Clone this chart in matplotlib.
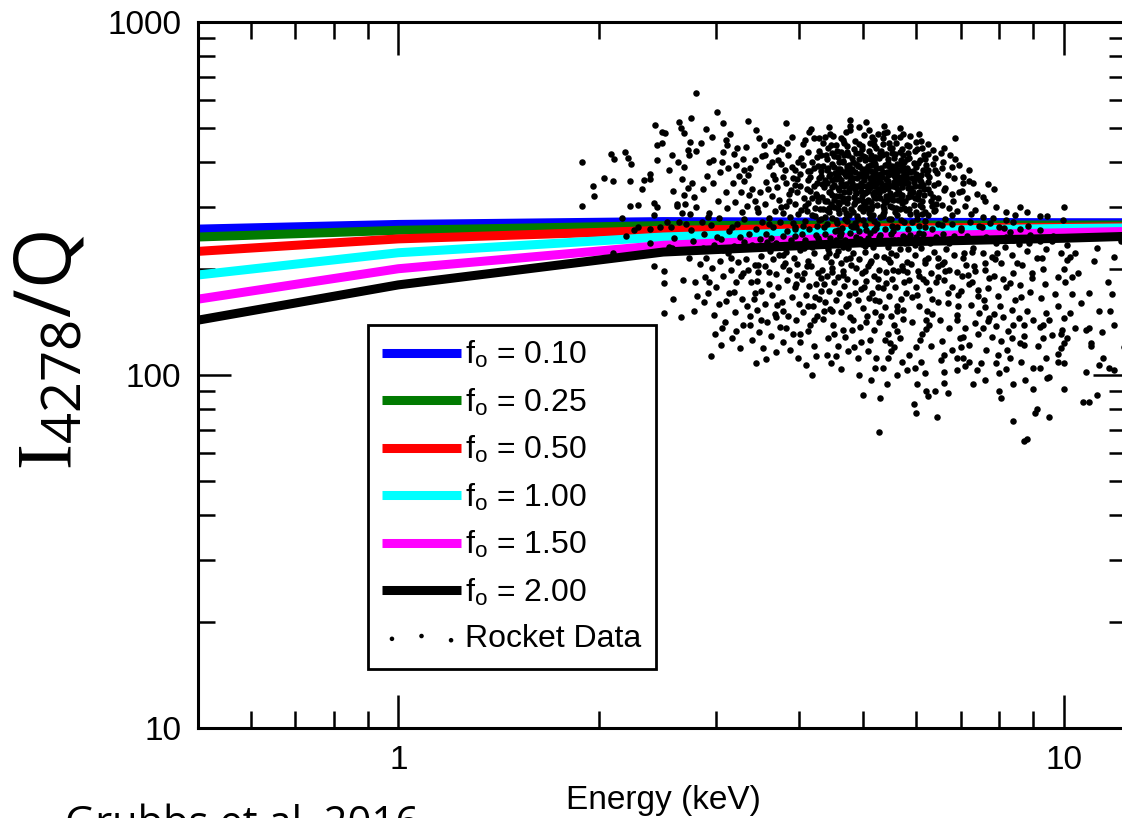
import matplotlib
matplotlib.use('Agg')
import matplotlib.pyplot as plt
from matplotlib.ticker import FixedLocator, FixedFormatter, LogLocator, NullFormatter
import numpy as np

plt.rcParams.update({
    'font.family': ['Liberation Sans', 'DejaVu Sans'],
    'mathtext.fontset': 'custom',
    'mathtext.rm': 'Liberation Serif',
    'mathtext.sf': 'Open Sans',
    'mathtext.it': 'Liberation Serif:italic',
})

# model curves (I4278/Q vs energy), one per f_o value
energy = [0.5, 1.0, 2.5, 5.0, 10.0, 12.4]
ratio_f010 = [259, 267, 272, 271, 270, 270]
ratio_f025 = [246, 257, 265, 266, 266, 266]
ratio_f050 = [224, 243, 257, 261, 262, 263]
ratio_f100 = [192, 222, 246, 256, 260, 261]
ratio_f150 = [164, 200, 233, 246, 253, 255]
ratio_f200 = [143, 180, 223, 237, 244, 247]

curve_labels = ['0.10', '0.25', '0.50', '1.00', '1.50', '2.00']
curve_colors = ['#0000ff', '#007a00', '#ff0000', '#00ffff', '#ff00ff', '#000000']

rocket_data = [
    # E < 2.35
    (1.89, 401), (1.96, 343), (1.97, 321), (1.89, 301), (2.04, 361), (2.10, 355), (2.09, 423),
    (2.11, 408), (2.19, 428), (2.21, 412), (2.24, 396), (2.23, 354), (2.23, 302), (2.29, 304),
    (2.17, 278), (2.20, 247), (2.10, 222), (2.26, 257), (2.29, 262), (2.32, 337), (2.34, 357),
    # 2.35 - 2.8
    (2.39, 371), (2.39, 360), (2.42, 307), (2.45, 300), (2.45, 407), (2.45, 447), (2.43, 511),
    (2.49, 489), (2.52, 486), (2.49, 453), (2.55, 381), (2.59, 333), (2.62, 302), (2.64, 520),
    (2.66, 501), (2.69, 486), (2.75, 536), (2.80, 630), (2.74, 456), (2.72, 433), (2.73, 420),
    (2.80, 431), (2.69, 389), (2.63, 400), (2.72, 339), (2.67, 360), (2.69, 324), (2.78, 320),
    (2.42, 284), (2.39, 259), (2.39, 236), (2.42, 203), (2.51, 197), (2.51, 182), (2.59, 164),
    (2.51, 150), (2.66, 146), (2.78, 152), (2.53, 272), (2.57, 262), (2.55, 231), (2.58, 229),
    (2.62, 305), (2.64, 272), (2.67, 287), (2.70, 305), (2.74, 285), (2.75, 258), (2.68, 186),
    (2.73, 215), (2.77, 240), (2.79, 184), (2.79, 225), (2.81, 167), (2.80, 300), (2.47, 262),
    (2.60, 245), (2.71, 268), (2.76, 350), (2.58, 420),
    # 2.8 - 3.3
    (2.87, 336), (2.91, 366), (2.93, 400), (2.97, 407), (3.08, 518), (3.11, 463), (3.12, 448),
    (3.08, 428), (3.06, 400), (3.19, 423), (2.95, 113), (2.99, 131), (3.05, 122), (2.85, 455),
    (2.90, 497), (2.96, 471), (3.01, 556), (3.15, 482), (3.22, 394), (3.25, 367), (3.18, 349),
    (3.11, 331), (3.02, 312), (2.93, 288), (2.86, 271), (2.88, 251), (2.95, 266), (3.03, 279),
    (3.12, 297), (3.21, 309), (3.27, 331), (3.28, 289), (3.23, 268), (3.14, 256), (3.05, 243),
    (2.98, 233), (2.90, 214), (2.96, 201), (3.04, 211), (3.13, 221), (3.19, 232), (3.26, 246),
    (2.84, 206), (2.89, 189), (3.00, 177), (3.08, 191), (3.16, 199), (3.24, 209), (3.30, 194),
    (2.92, 171), (3.03, 159), (3.14, 171), (3.22, 183), (3.28, 164), (2.98, 148), (3.10, 141),
    (3.20, 151), (3.29, 139), (3.06, 136), (3.17, 127), (3.26, 119), (2.88, 161), (3.13, 385),
    (3.04, 376), (2.97, 351), (3.23, 441), (3.29, 409),
    # 3.3 - 3.8
    (3.35, 525), (3.48, 468), (3.54, 448), (3.35, 368), (3.31, 381), (3.31, 355), (3.44, 407),
    (3.38, 386), (3.70, 431), (3.73, 443), (3.83, 518), (3.72, 407), (3.40, 336), (3.36, 324),
    (3.52, 416), (3.61, 391), (3.66, 368), (3.57, 352), (3.49, 329), (3.43, 311), (3.34, 301),
    (3.47, 289), (3.55, 306), (3.64, 321), (3.71, 341), (3.78, 364), (3.76, 299), (3.68, 291),
    (3.61, 279), (3.52, 271), (3.45, 259), (3.37, 251), (3.40, 233), (3.49, 243), (3.57, 251),
    (3.65, 263), (3.74, 271), (3.79, 247), (3.70, 237), (3.62, 225), (3.51, 217), (3.43, 205),
    (3.35, 198), (3.39, 184), (3.47, 196), (3.56, 203), (3.65, 213), (3.73, 219), (3.78, 204),
    (3.69, 193), (3.60, 181), (3.51, 173), (3.42, 164), (3.34, 157), (3.38, 147), (3.46, 153),
    (3.55, 159), (3.64, 169), (3.72, 177), (3.77, 161), (3.68, 149), (3.58, 141), (3.48, 132),
    (3.40, 126), (3.53, 119), (3.63, 129), (3.74, 137), (3.70, 116), (3.57, 111), (3.45, 108),
    (3.79, 124), (3.62, 461), (3.45, 494), (3.76, 396), (3.33, 442),
    # 3.8 - 4.3
    (4.17, 496), (4.22, 469), (3.98, 400), (3.90, 472), (4.05, 451), (4.12, 428), (4.25, 414),
    (3.85, 421), (3.95, 381), (4.06, 394), (4.15, 379), (4.27, 391), (3.82, 349), (3.92, 361),
    (4.02, 344), (4.13, 356), (4.22, 343), (4.29, 362), (3.86, 326), (3.97, 331), (4.07, 318),
    (4.16, 333), (4.26, 321), (3.83, 301), (3.94, 306), (4.03, 294), (4.13, 307), (4.23, 297),
    (3.88, 281), (3.99, 286), (4.08, 273), (4.18, 284), (4.28, 275), (3.84, 256), (3.94, 263),
    (4.04, 251), (4.14, 259), (4.24, 249), (3.89, 241), (3.99, 234), (4.09, 242), (4.19, 231),
    (4.29, 239), (3.82, 223), (3.93, 214), (4.02, 226), (4.12, 211), (4.22, 221), (3.87, 199),
    (3.97, 206), (4.07, 194), (4.17, 203), (4.27, 195), (3.84, 186), (3.94, 177), (4.04, 187),
    (4.14, 179), (4.24, 181), (3.90, 166), (4.00, 159), (4.10, 169), (4.20, 157), (4.29, 164),
    (3.85, 147), (3.96, 143), (4.06, 151), (4.16, 139), (4.26, 147), (3.92, 131), (4.02, 124),
    (4.12, 133), (4.22, 121), (3.98, 112), (4.10, 107), (4.24, 113), (4.18, 100), (3.88, 118),
    # 4.3 - 4.8
    (4.46, 482), (4.50, 476), (4.66, 462), (4.78, 526), (4.78, 509), (4.78, 493), (4.35, 455),
    (4.42, 441), (4.55, 448), (4.62, 429), (4.72, 446), (4.32, 421), (4.40, 409), (4.48, 426),
    (4.57, 414), (4.65, 404), (4.74, 419), (4.34, 391), (4.41, 381), (4.49, 396), (4.58, 384),
    (4.66, 377), (4.75, 393), (4.31, 366), (4.38, 357), (4.46, 371), (4.54, 359), (4.62, 351),
    (4.70, 366), (4.78, 354), (4.36, 341), (4.44, 331), (4.52, 346), (4.60, 334), (4.68, 343),
    (4.76, 329), (4.33, 319), (4.41, 311), (4.49, 323), (4.57, 309), (4.65, 317), (4.73, 307),
    (4.35, 296), (4.43, 289), (4.51, 299), (4.59, 287), (4.67, 295), (4.75, 284), (4.32, 276),
    (4.40, 267), (4.48, 279), (4.56, 269), (4.64, 261), (4.72, 273), (4.79, 264), (4.37, 251),
    (4.45, 244), (4.53, 256), (4.61, 247), (4.69, 241), (4.77, 253), (4.34, 233), (4.42, 227),
    (4.50, 237), (4.58, 224), (4.66, 231), (4.74, 229), (4.39, 216), (4.47, 209), (4.55, 219),
    (4.63, 207), (4.71, 213), (4.33, 199), (4.41, 191), (4.49, 201), (4.57, 189), (4.65, 197),
    (4.73, 187), (4.36, 181), (4.44, 173), (4.52, 183), (4.60, 171), (4.68, 179), (4.76, 169),
    (4.38, 161), (4.46, 154), (4.54, 163), (4.62, 151), (4.70, 157), (4.34, 144), (4.50, 139),
    (4.66, 134), (4.78, 146), (4.42, 127), (4.58, 121), (4.74, 117), (4.47, 108), (4.63, 104),
    (4.40, 114),
    # 4.8 - 5.3
    (5.09, 493), (4.92, 505), (5.15, 471), (5.25, 481), (4.85, 461), (4.98, 444), (5.12, 453),
    (5.22, 439), (4.88, 426), (5.00, 417), (5.10, 431), (5.20, 414), (5.29, 426), (4.83, 401),
    (4.93, 391), (5.03, 406), (5.13, 394), (5.23, 387), (4.86, 376), (4.96, 367), (5.06, 381),
    (5.16, 369), (5.26, 361), (4.81, 351), (4.91, 344), (5.01, 356), (5.11, 341), (5.21, 349),
    (4.88, 327), (4.98, 321), (5.08, 333), (5.18, 319), (5.28, 327), (4.84, 306), (4.94, 297),
    (5.04, 309), (5.14, 295), (5.24, 303), (4.89, 283), (4.99, 275), (5.09, 287), (5.19, 273),
    (5.29, 281), (4.82, 263), (4.92, 255), (5.02, 266), (5.12, 253), (5.22, 261), (4.87, 241),
    (4.97, 235), (5.07, 245), (5.17, 231), (5.27, 239), (4.83, 221), (4.93, 213), (5.03, 223),
    (5.13, 211), (5.23, 217), (4.88, 201), (4.98, 194), (5.08, 204), (5.18, 191), (5.28, 199),
    (4.85, 183), (4.95, 175), (5.05, 185), (5.15, 171), (5.25, 177), (4.90, 163), (5.00, 155),
    (5.10, 165), (5.20, 151), (4.83, 143), (4.94, 137), (5.06, 147), (5.18, 134), (5.28, 141),
    (4.84, 120), (4.96, 124), (5.08, 117), (5.22, 112), (5.00, 88), (5.27, 69), (5.30, 86),
    (4.92, 100), (5.14, 97),
    # 5.3 - 5.8
    (5.68, 500), (5.42, 488), (5.55, 471), (5.35, 451), (5.48, 439), (5.60, 453), (5.72, 437),
    (5.33, 419), (5.45, 409), (5.57, 423), (5.69, 407), (5.38, 393), (5.50, 384), (5.62, 396),
    (5.74, 379), (5.32, 363), (5.44, 354), (5.56, 369), (5.68, 351), (5.78, 363), (5.36, 336),
    (5.48, 327), (5.60, 341), (5.72, 324), (5.40, 309), (5.52, 299), (5.64, 313), (5.76, 297),
    (5.34, 286), (5.46, 277), (5.58, 289), (5.70, 274), (5.38, 259), (5.50, 251), (5.62, 263),
    (5.74, 247), (5.32, 239), (5.44, 231), (5.56, 241), (5.68, 227), (5.78, 237), (5.36, 216),
    (5.48, 209), (5.60, 219), (5.72, 204), (5.40, 196), (5.52, 187), (5.64, 197), (5.76, 184),
    (5.34, 176), (5.46, 167), (5.58, 177), (5.70, 164), (5.38, 156), (5.50, 147), (5.62, 157),
    (5.74, 144), (5.44, 131), (5.56, 139), (5.68, 127), (5.42, 94), (5.44, 112), (5.50, 117),
    (5.48, 123), (5.55, 120), (5.35, 105), (5.62, 100), (5.72, 109),
    # 5.8 - 6.5
    (5.88, 475), (6.06, 483), (6.10, 461), (5.85, 446), (5.98, 431), (6.12, 441), (6.25, 424),
    (6.40, 411), (5.82, 409), (5.95, 399), (6.08, 407), (6.20, 393), (6.35, 397), (5.88, 377),
    (6.00, 371), (6.14, 381), (6.28, 364), (6.45, 373), (5.84, 349), (5.97, 343), (6.10, 353),
    (6.24, 337), (6.38, 346), (5.90, 321), (6.03, 316), (6.17, 324), (6.31, 311), (6.46, 317),
    (5.86, 296), (5.99, 289), (6.12, 299), (6.26, 284), (6.40, 293), (5.92, 271), (6.05, 264),
    (6.19, 273), (6.33, 259), (6.48, 267), (5.88, 249), (6.01, 241), (6.15, 251), (6.29, 237),
    (6.43, 246), (5.84, 227), (5.97, 219), (6.11, 229), (6.25, 215), (6.39, 223), (5.90, 206),
    (6.04, 197), (6.18, 207), (6.32, 194), (6.46, 203), (5.86, 186), (6.00, 177), (6.14, 187),
    (6.28, 174), (6.42, 183), (5.92, 166), (6.06, 157), (6.20, 143), (6.33, 149), (6.47, 161),
    (6.20, 135), (6.28, 139), (6.00, 120), (6.08, 126), (6.10, 109), (5.98, 105), (6.18, 101),
    (6.00, 78), (5.95, 83), (6.02, 94), (6.20, 90), (6.25, 87), (6.45, 76), (6.40, 90),
    # 6.5 - 7.5
    (6.87, 469), (6.87, 410), (6.60, 441), (6.75, 419), (6.95, 394), (7.20, 381), (6.55, 386),
    (6.70, 369), (6.85, 361), (7.05, 364), (7.30, 349), (6.60, 334), (6.78, 326), (6.95, 331),
    (7.15, 317), (7.40, 326), (6.55, 304), (6.72, 297), (6.90, 291), (7.10, 301), (7.35, 293),
    (6.62, 276), (6.80, 267), (7.00, 261), (7.22, 271), (7.45, 264), (6.58, 251), (6.75, 243),
    (6.95, 239), (7.15, 247), (7.38, 241), (6.65, 227), (6.85, 219), (7.05, 214), (7.28, 223),
    (6.55, 206), (6.72, 199), (6.92, 196), (7.12, 205), (7.35, 197), (6.60, 186), (6.80, 177),
    (7.00, 173), (7.20, 181), (7.42, 174), (6.90, 143), (6.92, 148), (7.06, 128), (6.70, 160),
    (7.25, 158), (7.45, 150), (7.10, 136), (7.35, 140), (6.60, 102), (6.60, 95), (6.70, 89),
    (6.90, 112), (6.90, 103), (7.06, 112), (7.40, 103), (7.20, 109), (7.30, 94), (7.10, 106),
    (6.80, 118), (7.00, 120), (6.55, 125), (7.20, 355), (7.05, 350),
    # 7.5 - 8.5
    (7.68, 347), (7.85, 337), (7.60, 311), (7.90, 299), (8.20, 289), (7.55, 281), (7.75, 269),
    (8.00, 263), (8.30, 254), (7.65, 246), (7.90, 237), (8.15, 231), (8.40, 241), (7.55, 221),
    (7.80, 216), (8.05, 207), (8.35, 219), (7.60, 199), (7.85, 191), (8.10, 187), (8.40, 195),
    (7.70, 176), (7.95, 167), (8.20, 177), (8.45, 163), (7.60, 156), (7.85, 149), (8.10, 146),
    (8.35, 153), (7.96, 114), (8.00, 90), (8.04, 86), (7.55, 136), (7.70, 142), (7.80, 128),
    (8.05, 125), (8.25, 133), (8.40, 139), (7.65, 118), (8.20, 104), (8.40, 94), (8.40, 74),
    (8.00, 101), (7.90, 108), (8.30, 112), (7.55, 320), (8.20, 275), (8.40, 272),
    # 8.5 - 9.5
    (8.60, 123), (8.70, 122), (8.70, 65), (8.80, 66), (9.00, 105), (9.20, 105), (9.10, 80),
    (9.05, 78), (8.60, 260), (8.90, 250), (9.20, 240), (8.55, 235), (8.80, 225), (9.10, 215),
    (9.40, 228), (8.65, 205), (8.95, 195), (9.30, 200), (8.60, 180), (8.90, 172), (9.25, 165),
    (8.70, 139), (9.00, 143), (9.20, 137), (9.30, 139), (8.80, 152), (9.40, 150), (8.55, 145),
    (9.15, 121), (9.40, 112), (9.00, 91), (8.75, 97), (8.60, 300), (8.80, 290), (9.45, 282),
    (9.20, 282),
    # 9.5 - 10.5
    (9.50, 143), (9.60, 130), (9.50, 76), (9.50, 99), (9.45, 98), (9.80, 115), (9.80, 109),
    (10.0, 108), (10.0, 91), (10.1, 212), (9.90, 222), (10.0, 200), (10.05, 183), (10.2, 150),
    (10.0, 145), (9.95, 134), (9.90, 131), (10.1, 127), (10.0, 123), (9.60, 240), (9.80, 190),
    (10.3, 170), (9.70, 170), (10.2, 216), (10.4, 136), (10.0, 300), (9.97, 275),
    # above 10.5
    (10.5, 194), (10.4, 222), (10.8, 134), (10.9, 136), (11.0, 123), (11.0, 121), (10.8, 102),
    (11.2, 88), (10.7, 84), (10.9, 84), (11.65, 184), (11.8, 170), (11.75, 152), (11.9, 139),
    (11.3, 152), (11.4, 132), (11.45, 112), (11.3, 107), (11.7, 105), (11.9, 103), (10.6, 160),
    (11.1, 210), (12.2, 240), (12.3, 120),
    # dense core
    (4.41, 351), (4.57, 338), (4.69, 372), (4.83, 361), (4.95, 333), (5.04, 344), (5.17, 359),
    (5.26, 337), (5.38, 346), (5.51, 371), (5.63, 334), (5.77, 349), (5.92, 361), (6.05, 331),
    (4.47, 305), (4.61, 322), (4.79, 296), (4.91, 314), (5.02, 327), (5.14, 309), (5.23, 318),
    (5.34, 301), (5.47, 315), (5.59, 326), (5.71, 307), (5.83, 319), (5.96, 303), (6.12, 312),
    (4.52, 388), (4.66, 401), (4.81, 383), (4.93, 409), (5.07, 391), (5.19, 404), (5.32, 386),
    (5.44, 398), (5.57, 381), (5.69, 394), (5.81, 385), (5.99, 389), (4.38, 281), (4.55, 275),
    (4.71, 288), (4.86, 270), (5.00, 292), (5.11, 279), (5.24, 268), (5.36, 290), (5.49, 276),
    (5.62, 284), (5.75, 271), (5.88, 286), (6.02, 277), (6.18, 289), (4.63, 252), (4.87, 246),
    (5.05, 258), (5.29, 249), (5.53, 255), (5.79, 244), (6.06, 253), (4.73, 428), (4.97, 436),
    (5.13, 421), (5.31, 432), (5.52, 426), (5.74, 419), (5.02, 366), (5.09, 348), (5.21, 373),
    (5.28, 355), (4.88, 344), (4.99, 312), (5.16, 326), (5.33, 364), (5.41, 322), (5.55, 353),
    (4.76, 336), (4.59, 362), (5.66, 365), (5.84, 338), (4.45, 330), (6.15, 345), (6.30, 328),
    (6.22, 372), (4.25, 350), (4.18, 318), (4.12, 378), (3.95, 345), (3.86, 312), (4.30, 295),
    (3.92, 270), (4.05, 265),
    (4.03, 412), (4.11, 337), (4.19, 401), (4.23, 283), (4.28, 432), (4.33, 348), (4.36, 262),
    (4.39, 419), (4.43, 367), (4.47, 447), (4.51, 313), (4.53, 361), (4.56, 432), (4.58, 296),
    (4.61, 383), (4.64, 345), (4.67, 421), (4.69, 276), (4.72, 391), (4.74, 318), (4.77, 366),
    (4.80, 412), (4.82, 289), (4.85, 337), (4.87, 396), (4.89, 361), (4.91, 277), (4.94, 426),
    (4.96, 351), (4.98, 383), (5.01, 303), (5.03, 414), (5.05, 371), (5.07, 297), (5.10, 339),
    (5.12, 408), (5.14, 378), (5.16, 284), (5.18, 343), (5.20, 396), (5.22, 329), (5.25, 367),
    (5.27, 412), (5.30, 318), (5.32, 351), (5.35, 377), (5.37, 296), (5.40, 423), (5.43, 338),
    (5.45, 369), (5.48, 301), (5.51, 392), (5.53, 343), (5.56, 412), (5.59, 297), (5.61, 376),
    (5.64, 352), (5.67, 429), (5.70, 318), (5.73, 366), (5.76, 402), (5.79, 293), (5.82, 361),
    (5.86, 412), (5.90, 339), (5.94, 378), (5.98, 318), (6.03, 398), (6.08, 357), (6.13, 286),
    (6.19, 408), (6.26, 353), (6.33, 301), (6.41, 382),
    (4.44, 298), (4.49, 357), (4.55, 322), (4.60, 401), (4.66, 311), (4.71, 348), (4.78, 377),
    (4.84, 319), (4.90, 392), (4.95, 299), (5.00, 371), (5.05, 329), (5.11, 361), (5.17, 396),
    (5.23, 347), (5.29, 372), (5.34, 334), (5.41, 359), (5.46, 392), (5.52, 321), (5.58, 363),
    (5.65, 382), (5.72, 341), (5.80, 371), (5.87, 327), (5.95, 352), (6.04, 323), (6.11, 368),
    (4.92, 451), (5.19, 462), (5.46, 455), (5.81, 448), (4.62, 468), (5.36, 485), (6.00, 458),
    (4.28, 468),
    (3.64, 402), (3.77, 437), (3.91, 388), (4.08, 463), (4.21, 386), (4.37, 472), (4.52, 417),
    (4.68, 454), (4.84, 436), (5.01, 478), (5.18, 447), (5.34, 468), (5.51, 441), (5.67, 473),
    (5.83, 425), (6.01, 437), (6.17, 421), (6.36, 433), (6.58, 402), (6.79, 388), (3.84, 455),
    (4.14, 488), (4.44, 503), (4.71, 488), (5.04, 521), (5.37, 509), (5.73, 481), (6.26, 452),
    (6.53, 425), (3.56, 421),
    (3.59, 337), (3.68, 359), (3.81, 381), (3.89, 334), (4.01, 371), (4.09, 302), (4.16, 364),
    (4.24, 326), (4.31, 379), (4.37, 312), (4.42, 387), (4.48, 341), (4.53, 374), (4.59, 306),
    (4.63, 356), (4.68, 329), (4.73, 384), (4.79, 341), (4.86, 309), (4.92, 371), (4.97, 342),
    (5.03, 383), (5.08, 314), (5.13, 352), (5.19, 331), (5.24, 386), (5.31, 339), (5.36, 311),
    (5.42, 377), (5.47, 346), (5.54, 314), (5.59, 384), (5.66, 327), (5.71, 356), (5.78, 312),
    (5.85, 379), (5.93, 331), (6.01, 362), (6.09, 303), (6.16, 336), (6.24, 381), (6.35, 319),
    (6.47, 351), (6.62, 338), (6.81, 311), (7.02, 333), (3.73, 313), (3.97, 358), (4.27, 311),
    (4.57, 371), (4.87, 327), (5.15, 301), (5.44, 339), (5.74, 389), (6.07, 344), (6.42, 306),
    (3.61, 268), (3.79, 287), (3.95, 259), (4.11, 292), (4.26, 264), (4.41, 293), (4.57, 258),
    (4.72, 284), (4.88, 262), (5.04, 297), (5.19, 257), (5.35, 283), (5.51, 265), (5.67, 296),
    (5.84, 259), (6.01, 284), (6.19, 262), (6.38, 291), (6.57, 266), (6.78, 284), (7.01, 258),
    (7.26, 286), (7.53, 262), (7.82, 279), (8.13, 261), (8.46, 284), (8.83, 265), (9.21, 258),
    (3.31, 276), (3.46, 298), (3.17, 262), (2.92, 281),
    # band below the curves
    (3.07, 226), (3.33, 213), (3.58, 238), (3.81, 207), (4.07, 229), (4.31, 188), (4.54, 241),
    (4.79, 205), (5.03, 232), (5.26, 187), (5.49, 222), (5.73, 198), (5.97, 233), (6.21, 184),
    (6.47, 214), (6.73, 236), (7.02, 191), (7.31, 229), (7.62, 207), (7.93, 221), (3.19, 172),
    (3.46, 185), (3.71, 158), (3.97, 192), (4.23, 166), (4.48, 196), (4.74, 159), (5.01, 178),
    (5.27, 162), (5.53, 199), (5.79, 171), (6.06, 191), (6.34, 164), (6.63, 197), (6.94, 168),
    (7.27, 184), (7.59, 163), (3.38, 139), (3.69, 146), (4.02, 131), (4.36, 152), (4.69, 128),
    (5.04, 141), (5.39, 126), (5.74, 153), (6.12, 131), (6.52, 143), (6.97, 127), (7.44, 131),
    (7.91, 138), (8.37, 127), (4.55, 113), (5.21, 105), (5.86, 114), (6.53, 110), (7.61, 97),
    (8.62, 109),
    (2.87, 229), (3.01, 246), (3.16, 214), (3.31, 238), (3.47, 205), (3.63, 244), (3.78, 219),
    (3.94, 247), (4.11, 203), (4.27, 244), (4.43, 221), (4.61, 249), (4.77, 214), (4.94, 243),
    (5.11, 207), (5.28, 246), (5.45, 213), (5.63, 241), (5.81, 209), (5.99, 246), (6.19, 212),
    (6.39, 241), (6.61, 209), (6.83, 248), (7.08, 221), (7.34, 203), (7.61, 243), (7.88, 213),
    (8.18, 246), (8.51, 208), (8.87, 236), (9.26, 214), (9.63, 247), (10.1, 233), (10.6, 245),
    (11.2, 229), (11.9, 216),
    (2.93, 183), (3.11, 162), (3.27, 191), (3.44, 171), (3.61, 196), (3.78, 152), (3.96, 181),
    (4.13, 157), (4.31, 173), (4.49, 152), (4.66, 192), (4.85, 171), (5.03, 197), (5.21, 163),
    (5.41, 182), (5.61, 152), (5.81, 196), (6.02, 168), (6.23, 152), (6.46, 189), (6.69, 171),
    (6.93, 157), (7.17, 192), (7.43, 167), (7.71, 188), (8.01, 157), (8.31, 182), (8.63, 166),
    (8.97, 188), (9.37, 181), (9.81, 157), (10.3, 189), (10.9, 171),
    (3.22, 133), (3.51, 143), (3.83, 136), (4.21, 143), (4.51, 131), (4.81, 134), (5.11, 126),
    (5.31, 147), (5.61, 133), (5.91, 141), (6.31, 121), (6.71, 136), (7.21, 122), (7.71, 145),
    (8.21, 118), (8.71, 129), (9.31, 127), (9.91, 119), (4.91, 112), (5.81, 103), (6.61, 114),
    (7.51, 108),
]
rocket_energy = [p[0] for p in rocket_data]
rocket_ratio = [p[1] for p in rocket_data]

fig = plt.figure(figsize=(11.22, 8.18), dpi=100)
ax = fig.add_axes([198 / 1122, 90 / 818, 928 / 1122, 706 / 818])

curves = [ratio_f010, ratio_f025, ratio_f050, ratio_f100, ratio_f150, ratio_f200]
for vals, col, lab in zip(curves, curve_colors, curve_labels):
    ax.plot(energy, vals, color=col, lw=6.5, solid_capstyle='butt',
            label=r'f$_\mathregular{o}$ = ' + lab, zorder=2)

ax.scatter(rocket_energy, rocket_ratio, s=22, c='black', linewidths=0,
           label='Rocket Data', zorder=3)

ax.set_xscale('log')
ax.set_yscale('log')
ax.set_xlim(0.5, 12.4)
ax.set_ylim(10, 1000)

ax.xaxis.set_major_locator(FixedLocator([1, 10]))
ax.xaxis.set_major_formatter(FixedFormatter(['1', '10']))
ax.xaxis.set_minor_locator(LogLocator(base=10, subs=np.arange(2, 10)))
ax.xaxis.set_minor_formatter(NullFormatter())
ax.yaxis.set_major_locator(FixedLocator([10, 100, 1000]))
ax.yaxis.set_major_formatter(FixedFormatter(['10', '100', '1000']))
ax.yaxis.set_minor_locator(LogLocator(base=10, subs=np.arange(2, 10)))
ax.yaxis.set_minor_formatter(NullFormatter())

ax.tick_params(which='both', direction='in', top=True, right=True,
               width=1.8, labelsize=24, pad=12)
ax.tick_params(which='major', length=24)
ax.tick_params(which='minor', length=12)
for s in ax.spines.values():
    s.set_linewidth(2.2)

leg = ax.legend(loc='upper left', bbox_to_anchor=(368 / 1122, 1 - 325 / 818),
                bbox_transform=fig.transFigure, fontsize=23, frameon=True,
                fancybox=False, edgecolor='black', framealpha=1, borderaxespad=0,
                borderpad=0.45, handlelength=2.45, handletextpad=0.15,
                labelspacing=0.5, scatterpoints=3, markerscale=0.7)
leg.get_frame().set_linewidth(2)

fig.text(50 / 1122, 1 - 350 / 818, r'$\mathrm{I}_{\mathsf{4278}}$/Q', rotation=90,
         ha='center', va='center', fontsize=56, family='Open Sans')
fig.text(663 / 1122, 1 - 800 / 818, 'Energy (keV)', ha='center', va='center', fontsize=24)
fig.text(65 / 1122, -0.022, 'Grubbs et al. 2016', ha='left', va='baseline',
         fontsize=30, family='Open Sans')

fig.savefig('out.png', dpi=100)
